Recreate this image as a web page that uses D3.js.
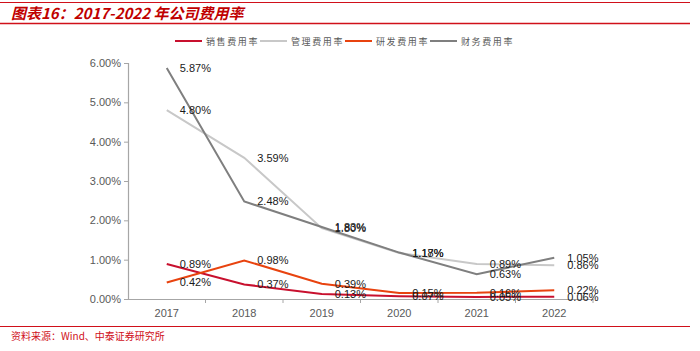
<!DOCTYPE html>
<html lang="zh">
<head>
<meta charset="UTF-8">
<title>2017-2022年公司费用率</title>
<style>
    body { margin: 0; background: #fff; }
    svg { display: block; }
</style>
</head>
<body>
<svg id="chart" width="700" height="351"></svg>
<script src="https://cdn.jsdelivr.net/npm/d3@7"></script>
<script>
    // 数据
    const years = ["2017", "2018", "2019", "2020", "2021", "2022"];
    const seriesNames = ["销售费用率", "管理费用率", "研发费用率", "财务费用率"];
    const sales = [0.89, 0.37, 0.13, 0.07, 0.05, 0.06];
    const admin = [4.80, 3.59, 1.80, 1.17, 0.89, 0.86];
    const rnd = [0.42, 0.98, 0.39, 0.15, 0.16, 0.22];
    const finance = [5.87, 2.48, 1.83, 1.18, 0.63, 1.05];
    const yTicks = [0, 1, 2, 3, 4, 5, 6];

    const colors = ["#c8102e", "#c8c8c8", "#e8430f", "#7f7f7f"];
    const series = [sales, admin, rnd, finance];

    const svg = d3.select("#chart");
    const red = "#d0101a";

    // 标题和分隔线
    svg.append("line").attr("x1", 0).attr("x2", 690).attr("y1", 2.5).attr("y2", 2.5)
        .attr("stroke", red).attr("stroke-width", 1);
    svg.append("line").attr("x1", 0).attr("x2", 690).attr("y1", 23.5).attr("y2", 23.5)
        .attr("stroke", red).attr("stroke-width", 1.5);
    svg.append("text")
        .attr("x", 11).attr("y", 19)
        .attr("fill", "#c00000")
        .style("font-family", "'Noto Sans CJK SC', sans-serif")
        .style("font-size", "15px")
        .style("font-weight", "bold")
        .style("font-style", "italic")
        .text("图表16：2017-2022 年公司费用率");

    svg.append("line").attr("x1", 0).attr("x2", 690).attr("y1", 326.5).attr("y2", 326.5)
        .attr("stroke", red).attr("stroke-width", 1);
    svg.append("text")
        .attr("x", 11).attr("y", 340)
        .attr("fill", red)
        .style("font-family", "'Noto Sans CJK SC', sans-serif")
        .style("font-size", "10px")
        .text("资料来源：Wind、中泰证券研究所");

    // 比例尺
    const x = d3.scaleBand().domain(years).range([128, 593]);
    const y = d3.scaleLinear().domain([0, 6]).range([299, 63]);
    const cx = d => x(d) + x.bandwidth() / 2;

    // y轴
    const yAxis = svg.append("g")
        .attr("transform", "translate(128,0)")
        .call(d3.axisLeft(y).tickValues(yTicks).tickSize(4).tickPadding(3)
            .tickFormat(d => d.toFixed(2) + "%"));
    // x轴
    const xAxis = svg.append("g")
        .attr("transform", "translate(0,299)")
        .call(d3.axisBottom(x).tickSize(0).tickPadding(10));
    xAxis.selectAll(".tick line").remove();
    // 类别之间的刻度
    xAxis.selectAll(".sep")
        .data(years)
        .enter().append("line")
        .attr("class", "sep")
        .attr("x1", d => x(d) + x.bandwidth()).attr("x2", d => x(d) + x.bandwidth())
        .attr("y1", 0).attr("y2", 4)
        .attr("stroke", "#a6a6a6");

    [yAxis, xAxis].forEach(a => {
        a.select(".domain").attr("stroke", "#a6a6a6").attr("stroke-width", 1.2);
        a.selectAll(".tick line").attr("stroke", "#a6a6a6");
        a.selectAll("text")
            .attr("fill", "#595959")
            .style("font-family", "Arial, 'Liberation Sans', sans-serif")
            .style("font-size", "11px");
    });
    yAxis.select(".domain").attr("d", "M-4,299.5H0.5V63.5H-4");

    // 折线
    const line = d3.line()
        .x((d, i) => cx(years[i]))
        .y(d => y(d));

    svg.selectAll(".series")
        .data(series)
        .enter().append("path")
        .attr("class", "series")
        .attr("d", line)
        .attr("fill", "none")
        .attr("stroke", (d, i) => colors[i])
        .attr("stroke-width", 2);

    // 数据标签
    series.forEach(s => {
        svg.selectAll(null)
            .data(s)
            .enter().append("text")
            .attr("x", (d, i) => cx(years[i]) + 13)
            .attr("y", d => y(d) + 4)
            .attr("fill", "#1a1a1a")
            .style("font-family", "Arial, 'Liberation Sans', sans-serif")
            .style("font-size", "11px")
            .text(d => d.toFixed(2) + "%");
    });

    // 图例
    const legendX = [175, 260, 345, 430];
    const legend = svg.selectAll(".legend")
        .data(seriesNames)
        .enter().append("g")
        .attr("class", "legend")
        .attr("transform", (d, i) => "translate(" + legendX[i] + ",41)");
    legend.append("line")
        .attr("x1", 0).attr("x2", 27)
        .attr("stroke", (d, i) => colors[i])
        .attr("stroke-width", 2);
    legend.append("text")
        .attr("x", 31).attr("y", 4)
        .attr("fill", "#595959")
        .style("font-family", "'Noto Sans CJK SC', sans-serif")
        .style("font-size", "9px")
        .style("letter-spacing", "1.6px")
        .text(d => d);
</script>
</body>
</html>
